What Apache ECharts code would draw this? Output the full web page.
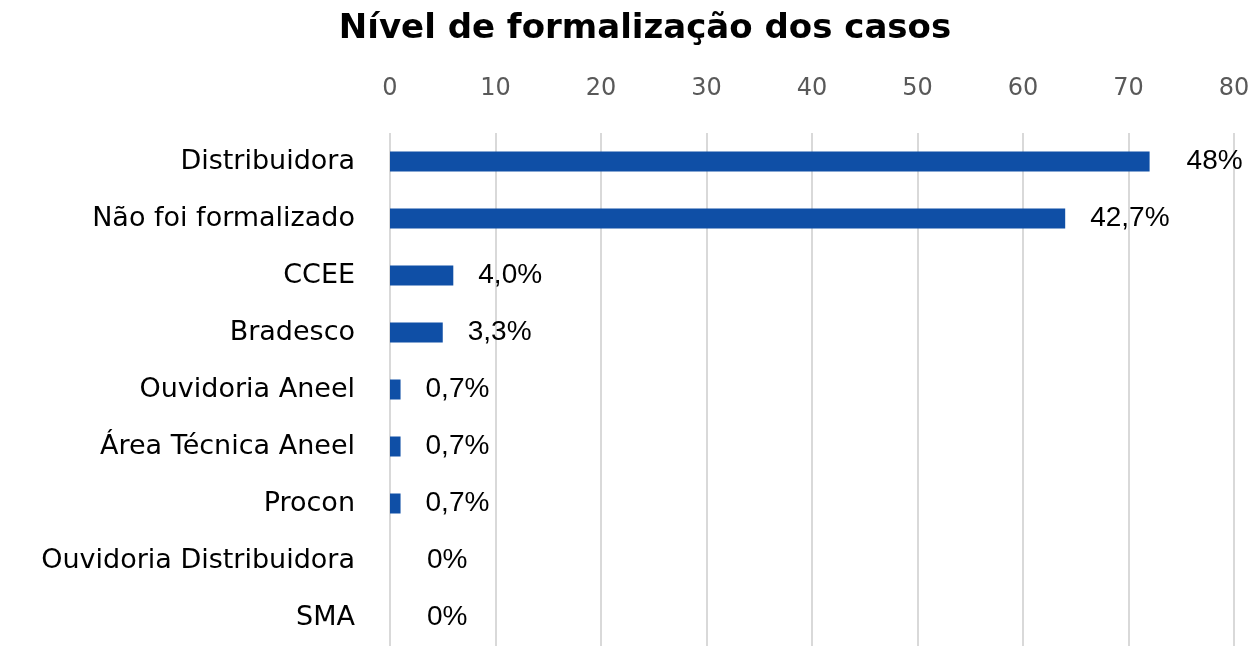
<!DOCTYPE html>
<html>
<head>
<meta charset="utf-8">
<script src="https://cdn.jsdelivr.net/npm/echarts@6/dist/echarts.min.js"></script>
<style>
  html, body { margin: 0; padding: 0; background: #fff; }
  #chart { width: 1253px; height: 646px; }
</style>
</head>
<body>
<div id="chart"></div>
<script>
// categorias, de cima para baixo
const categories = [
  'Distribuidora',
  'Não foi formalizado',
  'CCEE',
  'Bradesco',
  'Ouvidoria Aneel',
  'Área Técnica Aneel',
  'Procon',
  'Ouvidoria Distribuidora',
  'SMA'
]
const values = [72, 64, 6, 5, 1, 1, 1, 0, 0]
const percentLabels = ['48%', '42,7%', '4,0%', '3,3%', '0,7%', '0,7%', '0,7%', '0%', '0%']
const xTicks = [0, 10, 20, 30, 40, 50, 60, 70, 80]

const font = 'DejaVu Sans'
const chart = echarts.init(document.getElementById('chart'))

chart.setOption({
  animation: false,
  title: {
    text: 'Nível de formalização dos casos',
    left: 640,
    top: 7,
    textAlign: 'center',
    textStyle: {
      fontFamily: font,
      fontSize: 34,
      fontWeight: 'bold',
      color: '#000'
    }
  },
  grid: {
    left: 390,
    right: 19,
    top: 133,
    height: 515,
    containLabel: false
  },
  xAxis: {
    type: 'value',
    position: 'top',
    min: xTicks[0],
    max: xTicks[xTicks.length - 1],
    interval: 10,
    axisLine: { show: false },
    axisTick: { show: false },
    axisLabel: {
      margin: 32,
      color: '#595959',
      fontFamily: font,
      fontSize: 24
    },
    splitLine: {
      show: true,
      lineStyle: { color: '#d9d9d9', width: 2 }
    }
  },
  yAxis: {
    type: 'category',
    inverse: true,
    data: categories,
    axisLine: { show: false },
    axisTick: { show: false },
    axisLabel: {
      margin: 35,
      color: '#000',
      fontFamily: font,
      fontSize: 27
    }
  },
  series: [{
    type: 'bar',
    barWidth: 20,
    itemStyle: { color: '#0F4FA6' },
    data: values.map((v, i) => ({
      value: v,
      label: { distance: v === 0 || i === 0 ? 37 : 25 }
    })),
    label: {
      show: true,
      position: 'right',
      color: '#000',
      fontFamily: 'Liberation Sans',
      fontSize: 28,
      formatter: (p) => percentLabels[p.dataIndex]
    }
  }]
})
</script>
</body>
</html>
